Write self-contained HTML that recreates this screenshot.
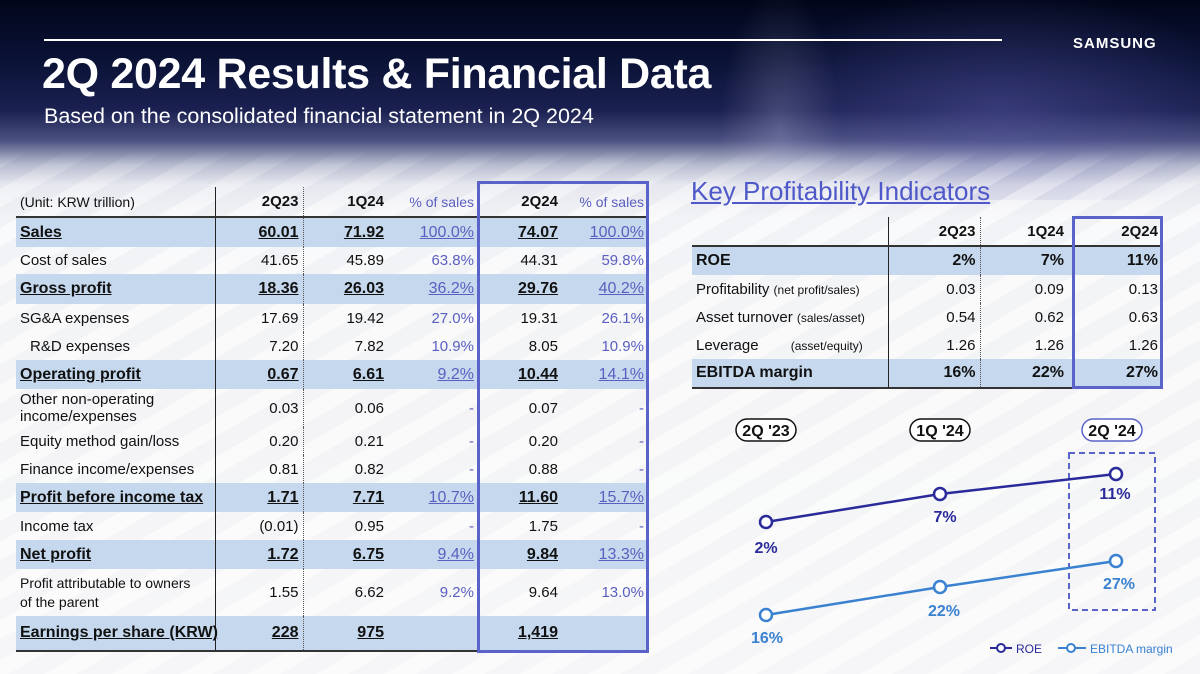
<!DOCTYPE html>
<html><head><meta charset="utf-8"><style>
*{margin:0;padding:0;box-sizing:border-box}
body{width:1200px;height:674px;overflow:hidden;position:relative;font-family:"Liberation Sans",sans-serif;
background:linear-gradient(180deg,#02061a 0px,#0a1236 60px,#1a2050 110px,#4a5080 140px,#b8bccf 165px,#e6e8ef 185px,#f2f3f6 220px,#f6f6f8 674px);}
.glow{position:absolute;left:0;top:0;width:1200px;height:200px;
background:radial-gradient(ellipse 250px 120px at 1000px 110px,rgba(90,90,170,.45),rgba(90,90,170,0)),radial-gradient(ellipse 60px 140px at 780px 130px,rgba(200,200,230,.25),rgba(200,200,230,0));}
.stripes{position:absolute;left:0;top:150px;width:1200px;height:524px;
background:repeating-linear-gradient(-30deg,rgba(255,255,255,0) 0 18px,rgba(255,255,255,.55) 18px 34px);
-webkit-mask-image:linear-gradient(180deg,transparent 0,#000 60px);mask-image:linear-gradient(180deg,transparent 0,#000 60px);}
.abs{position:absolute}
table{border-collapse:collapse;position:absolute;table-layout:fixed}
td{padding:0 4px;white-space:nowrap;font-size:15px;color:#111}
td.r{text-align:right}
.b td{background:#c5d8ed;font-weight:bold;font-size:16px}
.b td span{text-decoration:underline}
.p{color:#5a5fc0}
</style></head><body>
<div class="glow"></div>
<div class="stripes"></div>
<div class="abs" style="left:44px;top:39px;width:958px;height:2px;background:#fff"></div>
<div class="abs" style="left:1073px;top:35px;color:#fff;font-weight:bold;font-size:15px;letter-spacing:1px">SAMSUNG</div>
<div class="abs" style="left:42px;top:50px;color:#fff;font-weight:bold;font-size:43px;letter-spacing:-0.3px">2Q 2024 Results &amp; Financial Data</div>
<div class="abs" style="left:44px;top:104px;color:#fff;font-size:21.5px">Based on the consolidated financial statement in 2Q 2024</div>

<table style="left:16px;top:187px;width:632px">
<colgroup><col style="width:199px"><col style="width:88px"><col style="width:85px"><col style="width:90px"><col style="width:84px"><col style="width:86px"></colgroup>
<tr style="height:30px;border-bottom:2px solid #333"><td style="font-size:14px">(Unit: KRW trillion)</td><td class="r" style="font-weight:bold;border-left:1.5px solid #222">2Q23</td><td class="r" style="font-weight:bold;border-left:1px dotted #555">1Q24</td><td class="r p" style="font-size:14px">% of sales</td><td class="r" style="font-weight:bold">2Q24</td><td class="r p" style="font-size:14px">% of sales</td></tr>
<tr class="b" style="height:30px"><td><span>Sales</span></td><td class="r" style="border-left:1.5px solid #222"><span>60.01</span></td><td class="r" style="border-left:1px dotted #555"><span>71.92</span></td><td class="r p"><span style="font-weight:normal">100.0%</span></td><td class="r"><span>74.07</span></td><td class="r p"><span style="font-weight:normal">100.0%</span></td></tr>
<tr style="height:27px"><td>Cost of sales</td><td class="r" style="border-left:1.5px solid #222">41.65</td><td class="r" style="border-left:1px dotted #555">45.89</td><td class="r p">63.8%</td><td class="r">44.31</td><td class="r p">59.8%</td></tr>
<tr class="b" style="height:30px"><td><span>Gross profit</span></td><td class="r" style="border-left:1.5px solid #222"><span>18.36</span></td><td class="r" style="border-left:1px dotted #555"><span>26.03</span></td><td class="r p"><span style="font-weight:normal">36.2%</span></td><td class="r"><span>29.76</span></td><td class="r p"><span style="font-weight:normal">40.2%</span></td></tr>
<tr style="height:28px"><td>SG&amp;A expenses</td><td class="r" style="border-left:1.5px solid #222">17.69</td><td class="r" style="border-left:1px dotted #555">19.42</td><td class="r p">27.0%</td><td class="r">19.31</td><td class="r p">26.1%</td></tr>
<tr style="height:28px"><td style="padding-left:14px">R&amp;D expenses</td><td class="r" style="border-left:1.5px solid #222">7.20</td><td class="r" style="border-left:1px dotted #555">7.82</td><td class="r p">10.9%</td><td class="r">8.05</td><td class="r p">10.9%</td></tr>
<tr class="b" style="height:29px"><td><span>Operating profit</span></td><td class="r" style="border-left:1.5px solid #222"><span>0.67</span></td><td class="r" style="border-left:1px dotted #555"><span>6.61</span></td><td class="r p"><span style="font-weight:normal">9.2%</span></td><td class="r"><span>10.44</span></td><td class="r p"><span style="font-weight:normal">14.1%</span></td></tr>
<tr style="height:38px"><td style="line-height:17px">Other non-operating<br>income/expenses</td><td class="r" style="border-left:1.5px solid #222">0.03</td><td class="r" style="border-left:1px dotted #555">0.06</td><td class="r p">-</td><td class="r">0.07</td><td class="r p">-</td></tr>
<tr style="height:28px"><td>Equity method gain/loss</td><td class="r" style="border-left:1.5px solid #222">0.20</td><td class="r" style="border-left:1px dotted #555">0.21</td><td class="r p">-</td><td class="r">0.20</td><td class="r p">-</td></tr>
<tr style="height:28px"><td>Finance income/expenses</td><td class="r" style="border-left:1.5px solid #222">0.81</td><td class="r" style="border-left:1px dotted #555">0.82</td><td class="r p">-</td><td class="r">0.88</td><td class="r p">-</td></tr>
<tr class="b" style="height:29px"><td><span>Profit before income tax</span></td><td class="r" style="border-left:1.5px solid #222"><span>1.71</span></td><td class="r" style="border-left:1px dotted #555"><span>7.71</span></td><td class="r p"><span style="font-weight:normal">10.7%</span></td><td class="r"><span>11.60</span></td><td class="r p"><span style="font-weight:normal">15.7%</span></td></tr>
<tr style="height:28px"><td>Income tax</td><td class="r" style="border-left:1.5px solid #222">(0.01)</td><td class="r" style="border-left:1px dotted #555">0.95</td><td class="r p">-</td><td class="r">1.75</td><td class="r p">-</td></tr>
<tr class="b" style="height:29px"><td><span>Net profit</span></td><td class="r" style="border-left:1.5px solid #222"><span>1.72</span></td><td class="r" style="border-left:1px dotted #555"><span>6.75</span></td><td class="r p"><span style="font-weight:normal">9.4%</span></td><td class="r"><span>9.84</span></td><td class="r p"><span style="font-weight:normal">13.3%</span></td></tr>
<tr style="height:47px"><td style="line-height:19px;font-size:14px">Profit attributable to owners<br>of the parent</td><td class="r" style="border-left:1.5px solid #222">1.55</td><td class="r" style="border-left:1px dotted #555">6.62</td><td class="r p">9.2%</td><td class="r">9.64</td><td class="r p">13.0%</td></tr>
<tr class="b" style="height:35px;border-bottom:2px solid #333"><td><span>Earnings per share (KRW)</span></td><td class="r" style="border-left:1.5px solid #222"><span>228</span></td><td class="r" style="border-left:1px dotted #555"><span>975</span></td><td class="r p"></td><td class="r"><span>1,419</span></td><td class="r p"></td></tr>
</table>
<div class="abs" style="left:477px;top:181px;width:172px;height:472px;border:3px solid #5a63c8"></div>

<div class="abs" style="left:691px;top:176px;font-size:26px;color:#4f58c8;text-decoration:underline">Key Profitability Indicators</div>
<table style="left:692px;top:217px;width:470px">
<colgroup><col style="width:196px"><col style="width:92px"><col style="width:88px"><col style="width:94px"></colgroup>
<tr style="height:29px;border-bottom:2px solid #333"><td></td><td class="r" style="font-weight:bold;border-left:1.5px solid #222">2Q23</td><td class="r" style="font-weight:bold;border-left:1px dotted #555">1Q24</td><td class="r" style="font-weight:bold">2Q24</td></tr>
<tr class="b" style="height:29px"><td>ROE</td><td class="r" style="border-left:1.5px solid #222">2%</td><td class="r" style="border-left:1px dotted #555">7%</td><td class="r">11%</td></tr>
<tr style="height:28px"><td>Profitability <span style="font-size:12px">(net profit/sales)</span></td><td class="r" style="border-left:1.5px solid #222">0.03</td><td class="r" style="border-left:1px dotted #555">0.09</td><td class="r">0.13</td></tr>
<tr style="height:28px"><td>Asset turnover <span style="font-size:12px">(sales/asset)</span></td><td class="r" style="border-left:1.5px solid #222">0.54</td><td class="r" style="border-left:1px dotted #555">0.62</td><td class="r">0.63</td></tr>
<tr style="height:28px"><td>Leverage <span style="font-size:12px;padding-left:28px">(asset/equity)</span></td><td class="r" style="border-left:1.5px solid #222">1.26</td><td class="r" style="border-left:1px dotted #555">1.26</td><td class="r">1.26</td></tr>
<tr class="b" style="height:29px;border-bottom:2px solid #333"><td>EBITDA margin</td><td class="r" style="border-left:1.5px solid #222">16%</td><td class="r" style="border-left:1px dotted #555">22%</td><td class="r">27%</td></tr>
</table>
<div class="abs" style="left:1072px;top:216px;width:91px;height:173px;border:3px solid #5a63c8"></div>

<svg class="abs" style="left:0;top:0" width="1200" height="674">
<g font-family="Liberation Sans" font-weight="bold" font-size="16" text-anchor="middle">
<rect x="736" y="419" width="60" height="22" rx="11" fill="#fff" stroke="#111" stroke-width="1.5"/><text x="766" y="436" fill="#111">2Q '23</text>
<rect x="910" y="419" width="60" height="22" rx="11" fill="#fff" stroke="#111" stroke-width="1.5"/><text x="940" y="436" fill="#111">1Q '24</text>
<rect x="1082" y="419" width="60" height="22" rx="11" fill="#fff" stroke="#5a63c8" stroke-width="1.5"/><text x="1112" y="436" fill="#111">2Q '24</text>
<rect x="1069" y="453" width="86" height="157" fill="none" stroke="#5a63c8" stroke-width="2" stroke-dasharray="6,4"/>
<polyline points="766,522 940,494 1116,474" fill="none" stroke="#2a2a9a" stroke-width="2.5"/>
<polyline points="766,615 940,587 1116,561" fill="none" stroke="#3a82d0" stroke-width="2.5"/>
<g fill="#fff" stroke-width="2.5"><circle cx="766" cy="522" r="6" stroke="#2a2a9a"/><circle cx="940" cy="494" r="6" stroke="#2a2a9a"/><circle cx="1116" cy="474" r="6" stroke="#2a2a9a"/>
<circle cx="766" cy="615" r="6" stroke="#3a82d0"/><circle cx="940" cy="587" r="6" stroke="#3a82d0"/><circle cx="1116" cy="561" r="6" stroke="#3a82d0"/></g>
<g fill="#2a2a9a"><text x="766" y="553">2%</text><text x="945" y="522">7%</text><text x="1115" y="499">11%</text></g>
<g fill="#3a82d0"><text x="767" y="643">16%</text><text x="944" y="616">22%</text><text x="1119" y="589">27%</text></g>
</g>
<line x1="990" y1="648" x2="1012" y2="648" stroke="#2a2a9a" stroke-width="2"/><circle cx="1001" cy="648" r="4" fill="#fff" stroke="#2a2a9a" stroke-width="2"/>
<text x="1016" y="653" font-family="Liberation Sans" font-size="12" fill="#2a2a9a">ROE</text>
<line x1="1058" y1="648" x2="1086" y2="648" stroke="#3a82d0" stroke-width="2"/><circle cx="1071" cy="648" r="4" fill="#fff" stroke="#3a82d0" stroke-width="2"/>
<text x="1090" y="653" font-family="Liberation Sans" font-size="12" fill="#3a82d0">EBITDA margin</text>
</svg>
</body></html>
